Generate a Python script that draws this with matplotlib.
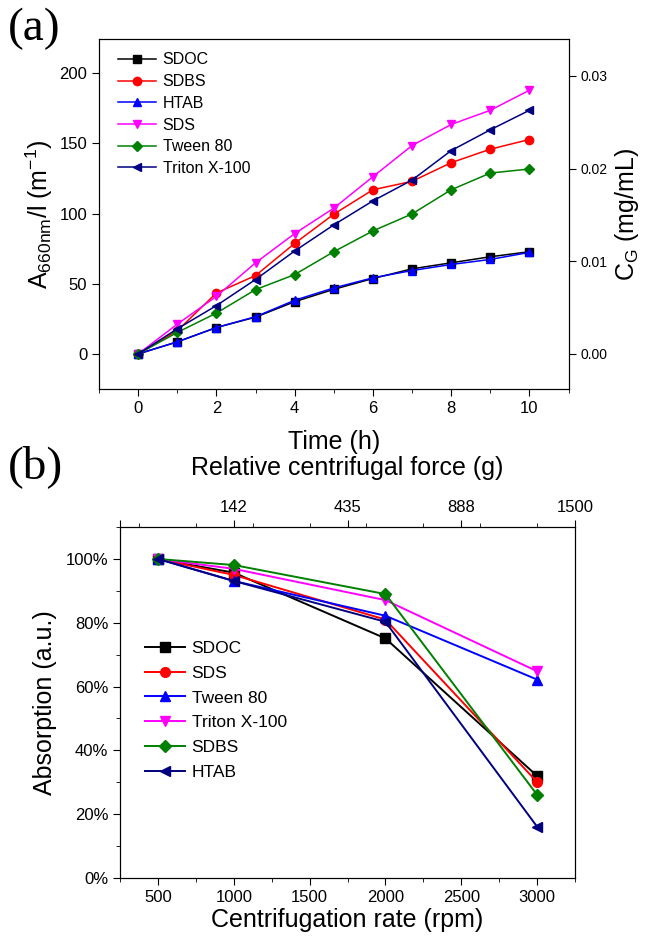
import matplotlib
matplotlib.use('Agg')
import matplotlib.pyplot as plt
from matplotlib.ticker import MultipleLocator, FormatStrFormatter

plt.rcParams['font.family'] = ['Liberation Sans', 'DejaVu Sans']
plt.rcParams['mathtext.fontset'] = 'custom'
plt.rcParams['mathtext.rm'] = 'Liberation Sans'
plt.rcParams['mathtext.it'] = 'Liberation Sans'

# (a) dados: absorbancia vs tempo
tempo = [0, 1, 2, 3, 4, 5, 6, 7, 8, 9, 10]
sdoc_a = [0, 8.6, 18.8, 26.2, 37.2, 46.0, 53.7, 60.6, 64.9, 69.2, 72.8]
sdbs_a = [0, 16.5, 43.4, 55.8, 78.7, 99.5, 116.9, 122.9, 136.2, 145.8, 152.7]
htab_a = [0, 8.6, 18.8, 26.5, 38.2, 47.0, 54.2, 59.4, 63.7, 67.3, 72.3]
sds_a = [0, 21.2, 41.0, 64.9, 85.7, 103.8, 126.2, 148.4, 163.4, 173.5, 187.8]
tween_a = [0, 15.3, 29.1, 45.8, 56.5, 72.8, 87.6, 99.7, 116.9, 128.8, 131.7]
triton_a = [0, 17.9, 34.4, 53.0, 73.3, 91.9, 109.0, 123.8, 144.8, 159.6, 173.5]
eps = 6600.0  # mL/(mg m), para o eixo C_G

# (b) dados: absorcao relativa vs rotacao
rpm = [500, 1000, 2000, 3000]
sdoc_b = [100, 95.7, 75.1, 32.0]
sds_b = [100, 95.0, 81.0, 30.1]
tween_b = [100, 93.1, 82.2, 62.2]
triton_b = [100, 96.9, 87.1, 64.8]
sdbs_b = [100, 98.1, 89.0, 26.1]
htab_b = [100, 93.1, 80.3, 16.1]
rcf_rpm = [250, 1000, 1750, 2500, 3250]
rcf_labels = ['', '142', '435', '888', '1500']

fig = plt.figure(figsize=(6.46, 9.42), dpi=100)

# ---------- painel (a) ----------
ax1 = fig.add_axes([0.1533, 0.5870, 0.7268, 0.3712])
series_a = [
    (sdoc_a, 'SDOC', 'black', 's'),
    (sdbs_a, 'SDBS', 'red', 'o'),
    (htab_a, 'HTAB', 'blue', '^'),
    (sds_a, 'SDS', 'magenta', 'v'),
    (tween_a, 'Tween 80', 'green', 'D'),
    (triton_a, 'Triton X-100', 'navy', '<'),
]
for y, lab, c, m in series_a:
    ms = 5 if m == 'D' else 6
    ax1.plot(tempo, y, color=c, marker=m, markersize=ms, linewidth=1.1, label=lab)
ax1.set_xlim(-1, 11)
ax1.set_ylim(-25, 224)
ax1.xaxis.set_major_locator(MultipleLocator(2))
ax1.xaxis.set_minor_locator(MultipleLocator(1))
ax1.yaxis.set_major_locator(MultipleLocator(50))
ax1.tick_params(which='both', direction='out', top=False, right=False, labelsize=12)
ax1.tick_params(which='major', length=5)
ax1.tick_params(which='minor', length=3)
ax1.set_xlabel('Time (h)', fontsize=18, labelpad=10)
ax1.set_ylabel(r'A$_{660nm}$/l (m$^{-1}$)', fontsize=18, labelpad=3)
ax1.legend(loc='upper left', bbox_to_anchor=(0.02, 0.99), frameon=False, fontsize=11.5,
           handlelength=2.4, handletextpad=0.4, labelspacing=0.42, borderaxespad=0.2)

ax1r = ax1.twinx()
ax1r.set_ylim(ax1.get_ylim()[0] / eps, ax1.get_ylim()[1] / eps)
ax1r.yaxis.set_major_locator(MultipleLocator(0.01))
ax1r.yaxis.set_major_formatter(FormatStrFormatter('%.2f'))
ax1r.tick_params(direction='out', length=5, labelsize=10)
ax1r.set_ylabel(r'C$_{G}$ (mg/mL)', fontsize=18, labelpad=4)

# ---------- painel (b) ----------
ax2 = fig.add_axes([0.1858, 0.0679, 0.7043, 0.3726])
series_b = [
    (sdoc_b, 'SDOC', 'black', 's'),
    (sds_b, 'SDS', 'red', 'o'),
    (tween_b, 'Tween 80', 'blue', '^'),
    (triton_b, 'Triton X-100', 'magenta', 'v'),
    (sdbs_b, 'SDBS', 'green', 'D'),
    (htab_b, 'HTAB', 'navy', '<'),
]
for y, lab, c, m in series_b:
    ms = 6 if m == 'D' else 7
    ax2.plot(rpm, y, color=c, marker=m, markersize=ms, linewidth=1.4, label=lab)
ax2.set_xlim(250, 3250)
ax2.set_ylim(0, 110)
ax2.xaxis.set_major_locator(MultipleLocator(500))
ax2.xaxis.set_minor_locator(MultipleLocator(250))
ax2.yaxis.set_major_locator(MultipleLocator(20))
ax2.yaxis.set_minor_locator(MultipleLocator(10))
ax2.yaxis.set_major_formatter(FormatStrFormatter('%d%%'))
ax2.tick_params(which='both', direction='out', top=False, right=False, labelsize=12)
ax2.tick_params(which='major', length=5)
ax2.tick_params(which='minor', length=3)
ax2.set_xlabel('Centrifugation rate (rpm)', fontsize=18, labelpad=2)
ax2.set_ylabel('Absorption (a.u.)', fontsize=18, labelpad=6)
ax2.legend(loc='upper left', bbox_to_anchor=(0.02, 0.72), frameon=False,
           fontsize=12.5, handlelength=2.3, handletextpad=0.4, labelspacing=0.55)

ax2t = ax2.twiny()
ax2t.set_xlim(ax2.get_xlim())
ax2t.set_xticks(rcf_rpm)
ax2t.set_xticklabels(rcf_labels)
ax2t.xaxis.set_minor_locator(MultipleLocator(375))
ax2t.tick_params(which='both', direction='out', labelsize=12)
ax2t.tick_params(which='major', length=5)
ax2t.tick_params(which='minor', length=3)
ax2t.set_xlabel('Relative centrifugal force (g)', fontsize=18, labelpad=18)

# rotulos dos paineis
fig.text(0.012, 0.992, '(a)', family=['Liberation Serif'], fontsize=34, va='top', ha='left')
fig.text(0.012, 0.527, '(b)', family=['Liberation Serif'], fontsize=34, va='top', ha='left')

fig.savefig('out.png', dpi=100)
